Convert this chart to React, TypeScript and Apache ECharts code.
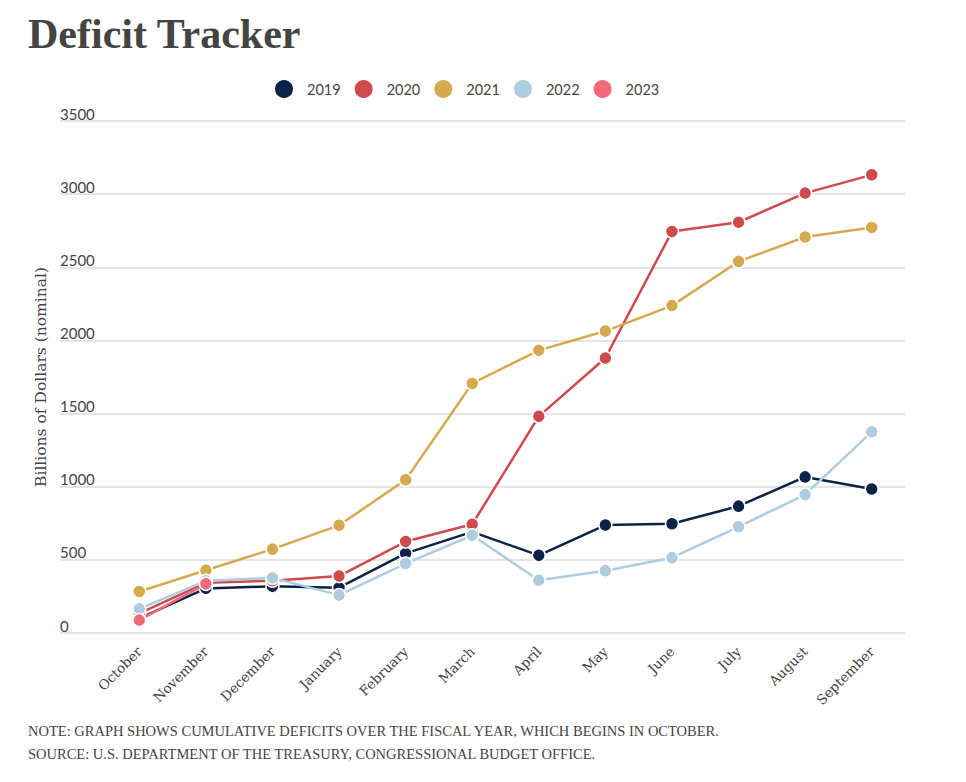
import React, { useEffect, useRef } from "react";
import * as echarts from "echarts";

const months = ["October", "November", "December", "January", "February", "March", "April", "May", "June", "July", "August", "September"];
const fy2019 = [100, 305, 319, 310, 544, 691, 531, 738, 747, 867, 1067, 984];
const fy2020 = [134, 343, 357, 389, 625, 743, 1481, 1880, 2744, 2808, 3007, 3132];
const fy2021 = [284, 429, 573, 736, 1047, 1706, 1932, 2064, 2238, 2540, 2707, 2772];
const fy2022 = [165, 356, 377, 259, 475, 668, 360, 426, 515, 726, 946, 1375];
const fy2023 = [88, 336];
const seriesNames = ["2019", "2020", "2021", "2022", "2023"];
const seriesColors = ["#0c2246", "#cf4a4e", "#d5aa4f", "#afcde0", "#ef6b7b"];
const yMin = 0;
const yMax = 3500;
const yStep = 500;
const titleText = "Deficit Tracker";
const yName = "Billions of Dollars (nominal)";
const note1 = "NOTE: GRAPH SHOWS CUMULATIVE DEFICITS OVER THE FISCAL YEAR, WHICH BEGINS IN OCTOBER.";
const note2 = "SOURCE: U.S. DEPARTMENT OF THE TREASURY, CONGRESSIONAL BUDGET OFFICE.";

export default function App() {
  const ref = useRef<HTMLDivElement>(null);
  useEffect(() => {
    if (!ref.current) return;
    const chart = echarts.init(ref.current, null, { renderer: "svg" });
    const datasets = [fy2019, fy2020, fy2021, fy2022, fy2023];
    chart.setOption({
      animation: false,
      backgroundColor: "#ffffff",
      title: {
        text: titleText,
        left: 23,
        top: 8,
        textStyle: { fontFamily: "Liberation Serif", fontWeight: "bold", fontSize: 42, color: "#444444" },
      },
      legend: {
        left: 268,
        top: 73,
        icon: "circle",
        itemWidth: 20,
        itemHeight: 20,
        itemGap: 12,
        data: seriesNames,
        textStyle: { fontFamily: "Lato", fontSize: 14.5, color: "#444444", padding: [0, 0, 0, 8] },
      },
      grid: [
        { left: 106, right: 61, top: 121, bottom: 149 },
        { left: 60, right: 61, top: 121, bottom: 149 },
      ],
      xAxis: [
        {
          type: "category",
          gridIndex: 0,
          data: months,
          boundaryGap: true,
          axisLine: { show: false },
          axisTick: { show: false },
          axisLabel: { rotate: 45, margin: 16, fontFamily: "DejaVu Serif", fontSize: 13.5, color: "#444444", interval: 0 },
        },
        { type: "value", gridIndex: 1, show: false, min: 0, max: 1 },
      ],
      yAxis: [
        { type: "value", gridIndex: 0, min: yMin, max: yMax, interval: yStep, show: false },
        {
          type: "value",
          gridIndex: 1,
          min: yMin,
          max: yMax,
          interval: yStep,
          axisLine: { show: false },
          axisTick: { show: false },
          splitLine: { show: true, lineStyle: { color: "#dddddd", width: 1.5 } },
          axisLabel: {
            inside: true,
            margin: 0,
            verticalAlign: "bottom",
            align: "left",
            fontFamily: "Lato",
            fontSize: 15,
            color: "#444444",
            formatter: (v: number) => String(v),
          },
          name: yName,
          nameLocation: "middle",
          nameRotate: 90,
          nameGap: 8,
          nameTextStyle: { fontFamily: "DejaVu Serif", fontSize: 15.5, color: "#444444" },
        },
      ],
      series: datasets.map((d, i) => ({
        name: seriesNames[i],
        type: "line",
        xAxisIndex: 0,
        yAxisIndex: 0,
        data: d,
        symbol: "circle",
        symbolSize: 13,
        showSymbol: true,
        color: seriesColors[i],
        lineStyle: { width: 2.5, color: seriesColors[i] },
        itemStyle: { color: seriesColors[i], borderColor: "#ffffff", borderWidth: 1.5 },
        z: 2 + i,
      })),
      graphic: [
        { type: "text", left: 28, top: 723, style: { text: note1, font: "14.5px 'Liberation Serif'", fill: "#444444" } },
        { type: "text", left: 28, top: 746, style: { text: note2, font: "14.5px 'Liberation Serif'", fill: "#444444" } },
      ],
    });
    return () => chart.dispose();
  }, []);
  return <div ref={ref} style={{ position: "fixed", left: 0, top: 0, width: 966, height: 782 }} />;
}
